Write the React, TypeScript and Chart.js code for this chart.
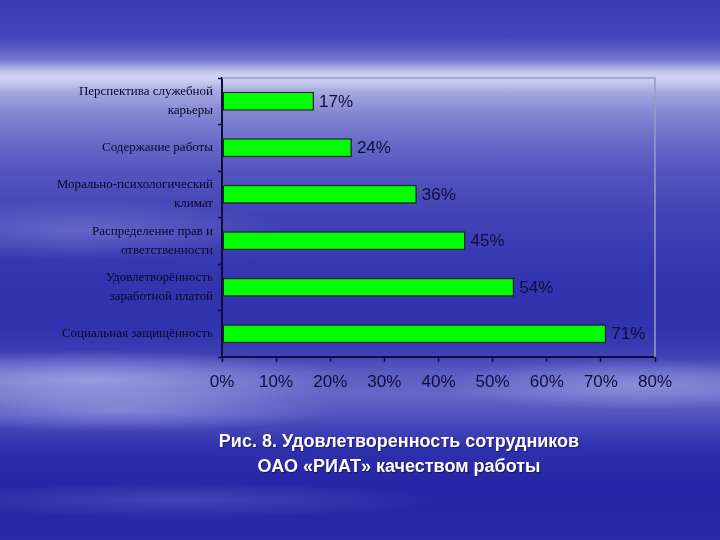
import React, { useEffect, useRef } from "react";
import { Chart, registerables } from "chart.js";

Chart.register(...registerables);

const categories: string[][] = [
  ["Перспектива служебной", "карьеры"],
  ["Содержание работы"],
  ["Морально-психологический", "климат"],
  ["Распределение прав и", "ответственности"],
  ["Удовлетворённость", "заработной платой"],
  ["Социальная защищённость"],
];
const values: number[] = [17, 24, 36, 45, 54, 71];
const xMin = 0;
const xMax = 80;
const xStep = 10;
const captionLines: string[] = [
  "Рис. 8. Удовлетворенность сотрудников",
  "ОАО «РИАТ» качеством работы",
];

const NAVY = "#0e0e3a";

const frameAndLabels = {
  id: "frameAndLabels",
  beforeDatasetsDraw(chart: any) {
    const { ctx, chartArea } = chart;
    ctx.save();
    ctx.strokeStyle = "#9a9cc0";
    ctx.lineWidth = 1.5;
    ctx.beginPath();
    ctx.moveTo(chartArea.left, chartArea.top);
    ctx.lineTo(chartArea.right, chartArea.top);
    ctx.lineTo(chartArea.right, chartArea.bottom);
    ctx.stroke();
    ctx.restore();
  },
  afterDatasetsDraw(chart: any) {
    const { ctx } = chart;
    const meta = chart.getDatasetMeta(0);
    ctx.save();
    ctx.font = "17px 'Liberation Sans', Arial, sans-serif";
    ctx.fillStyle = NAVY;
    ctx.textAlign = "left";
    ctx.textBaseline = "middle";
    meta.data.forEach((bar: any, i: number) => {
      ctx.fillText(values[i] + "%", bar.x + 5, bar.y + 1);
    });
    ctx.restore();
  },
};

export default function App() {
  const ref = useRef<HTMLCanvasElement | null>(null);

  useEffect(() => {
    if (!ref.current) return;
    const chart = new Chart(ref.current, {
      type: "bar",
      data: {
        labels: categories,
        datasets: [
          {
            data: values,
            backgroundColor: "#00ff00",
            borderColor: "#1c2c1c",
            borderWidth: 1.5,
            borderSkipped: false,
            barPercentage: 0.41,
            categoryPercentage: 1,
          },
        ],
      },
      options: {
        indexAxis: "y",
        animation: false,
        responsive: true,
        maintainAspectRatio: false,
        layout: { padding: { left: 0, top: 78, right: 65, bottom: 0 } },
        plugins: {
          legend: { display: false },
          tooltip: { enabled: false },
          title: { display: false },
        },
        scales: {
          x: {
            min: xMin,
            max: xMax,
            afterFit: (s: any) => {
              s.height = 183;
            },
            ticks: {
              stepSize: xStep,
              color: NAVY,
              padding: 10,
              font: { family: "'Liberation Sans', Arial, sans-serif", size: 17 },
              callback: (v: any) => v + "%",
            },
            grid: {
              drawOnChartArea: false,
              drawTicks: true,
              tickLength: 5,
              tickColor: NAVY,
              tickWidth: 1.5,
            },
            border: { display: true, color: NAVY, width: 2 },
          },
          y: {
            afterFit: (s: any) => {
              s.width = 222;
            },
            ticks: {
              color: "#080828",
              padding: 5,
              font: {
                family: "'Liberation Serif', 'Times New Roman', serif",
                size: 13,
                lineHeight: 1.45,
              },
            },
            grid: {
              offset: true,
              drawOnChartArea: false,
              drawTicks: true,
              tickLength: 4,
              tickColor: NAVY,
              tickWidth: 1.5,
            },
            border: { display: true, color: NAVY, width: 2 },
          },
        },
      },
      plugins: [frameAndLabels],
    });
    return () => chart.destroy();
  }, []);

  const bg = [
    "radial-gradient(ellipse 260px 30px at 90px 380px, rgba(200,205,245,0.55), rgba(200,205,245,0) 100%)",
    "radial-gradient(ellipse 220px 22px at 120px 410px, rgba(190,195,240,0.45), rgba(190,195,240,0) 100%)",
    "radial-gradient(ellipse 200px 25px at 640px 385px, rgba(190,195,240,0.45), rgba(190,195,240,0) 100%)",
    "radial-gradient(ellipse 260px 18px at 180px 500px, rgba(150,155,230,0.25), rgba(150,155,230,0) 100%)",
    "radial-gradient(ellipse 200px 30px at 80px 230px, rgba(170,175,235,0.35), rgba(170,175,235,0) 100%)",
    "linear-gradient(180deg, #3a3cb8 0%, #4446bc 7%, #7476cc 11%, #c8caee 13.5%, #d2d4f0 14.5%, #a6a8e0 17%, #8486d2 21%, #6a6cc8 26%, #5254be 32%, #4244b6 40%, #3436b0 50%, #3032ae 60%, #3a3cb2 65%, #5a5cc2 69%, #6668c8 73%, #4a4cbc 78%, #2e30ac 83%, #2626a6 90%, #2a2aa8 100%)",
  ].join(", ");

  return (
    <div
      style={{
        position: "fixed",
        left: 0,
        top: 0,
        width: 720,
        height: 540,
        background: bg,
        overflow: "hidden",
      }}
    >
      <canvas ref={ref} style={{ position: "absolute", left: 0, top: 0, width: 720, height: 540 }} />
      <div
        style={{
          position: "absolute",
          left: 0,
          width: 720,
          top: 429,
          textAlign: "center",
          paddingLeft: 78,
          boxSizing: "border-box",
          color: "#ffffff",
          fontFamily: "'Liberation Sans', Arial, sans-serif",
          fontSize: 18,
          fontWeight: "bold",
          lineHeight: "25px",
          textShadow: "1px 1px 1px rgba(20,20,80,0.7)",
        }}
      >
        {captionLines.map((l, i) => (
          <div key={i}>{l}</div>
        ))}
      </div>
    </div>
  );
}
